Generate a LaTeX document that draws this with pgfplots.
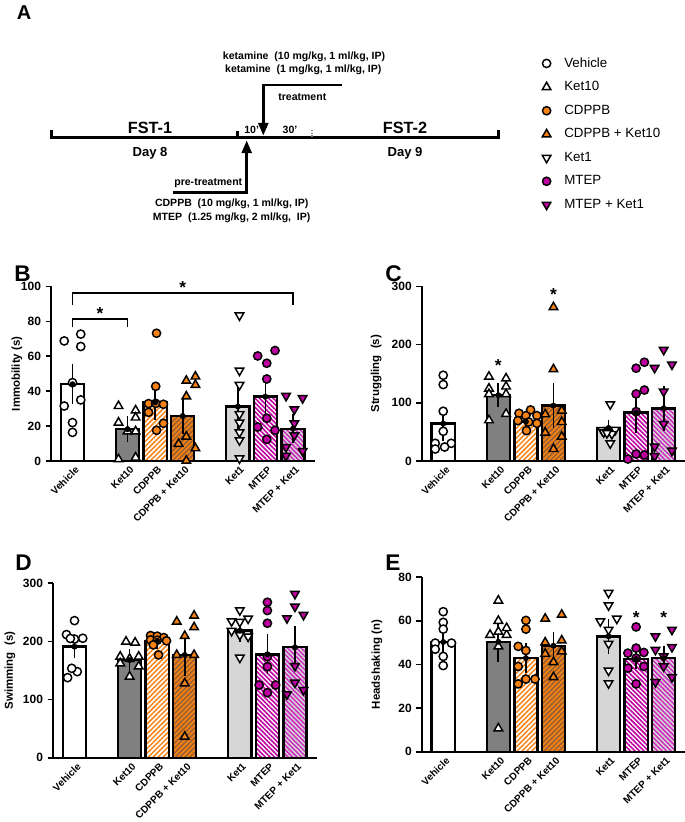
\documentclass[border=0pt]{standalone}
\usepackage{fontspec}
\setmainfont{Liberation Sans}
\usepackage{pgfplots}
\pgfplotsset{compat=1.18}
\usetikzlibrary{patterns.meta,arrows.meta}

\definecolor{myorange}{RGB}{247,130,20}
\definecolor{mymag}{RGB}{190,0,160}
\definecolor{mybrown}{RGB}{150,95,50}
\definecolor{mypink}{RGB}{205,40,190}
\definecolor{kgray}{RGB}{128,128,128}
\definecolor{lgray}{RGB}{214,214,214}

\pgfplotsset{
  panel/.style={
    scale only axis, width=198pt, height=130.9pt,
    xmin=-0.78, xmax=8.8, ymin=0,
    axis lines*=left,
    axis line style={line width=1.3pt},
    xtick={0,2,3,4,6,7,8},
    xticklabels={Vehicle,Ket10,CDPPB,CDPPB + Ket10,Ket1,MTEP,MTEP + Ket1},
    xtick style={draw=none},
    xticklabel style={rotate=45, anchor=north east, inner sep=1pt, font=\bfseries\fontsize{7.5}{9}\selectfont, xshift=2.5pt, yshift=0.5pt},
    ytick style={line width=1.2pt, black},
    tick align=outside,
    major tick length=4pt,
    yticklabel style={font=\bfseries\fontsize{9}{10}\selectfont},
    /pgf/number format/assume math mode=true,
    every axis y label/.style={at={(axis description cs:0,0.5)}, rotate=90, anchor=center, font=\bfseries\fontsize{8.6}{10}\selectfont},
    clip=false,
  },
  bbase/.style={ybar, bar width=0.84, bar shift=0pt, draw=black, line width=1.8pt},
  bVeh/.style={bbase, fill=white},
  bK10/.style={bbase, fill=kgray},
  bCD/.style={bbase, preaction={fill=white}, pattern={Lines[angle=45,distance=2.6pt,line width=1.1pt]}, pattern color=myorange},
  bCDK/.style={bbase, preaction={fill=mybrown}, pattern={Lines[angle=45,distance=2.6pt,line width=1.3pt]}, pattern color=myorange},
  bK1/.style={bbase, fill=lgray},
  bMT/.style={bbase, preaction={fill=white}, pattern={Lines[angle=-45,distance=2.4pt,line width=1.2pt]}, pattern color=mymag},
  bMTK/.style={bbase, preaction={fill=lgray}, pattern={Lines[angle=-45,distance=2.4pt,line width=1.1pt]}, pattern color=mypink},
  pVeh/.style={only marks, mark=*, mark size=3.1pt, mark options={draw=black, fill=white, line width=1.1pt}},
  pCD/.style={only marks, mark=*, mark size=3.1pt, mark options={draw=black, fill=myorange, line width=1.1pt}},
  pMT/.style={only marks, mark=*, mark size=3.1pt, mark options={draw=black, fill=mymag, line width=1.1pt}},
  pK10/.style={only marks, mark=triangle*, mark size=3.7pt, mark options={draw=black, fill=white, line width=1.1pt}},
  pCDK/.style={only marks, mark=triangle*, mark size=3.7pt, mark options={draw=black, fill=myorange, line width=1.1pt}},
  pK1/.style={only marks, mark=triangle*, mark size=3.7pt, mark options={draw=black, fill=white, line width=1.1pt, rotate=180}},
  pMTK/.style={only marks, mark=triangle*, mark size=3.7pt, mark options={draw=black, fill=mymag, line width=1.1pt, rotate=180}},
  ebar/.style={only marks, mark=none, black, error bars/.cd, y dir=both, y explicit,
     error bar style={line width=1.3pt, black}, error mark=-,
     error mark options={line width=1.3pt, black, mark size=4.5pt}},
}
\newcommand{\sigstar}[2]{\node[font=\bfseries\fontsize{13}{13}\selectfont, inner sep=0pt, yshift=-2pt] at (axis cs:#1,#2) {*};}

\begin{document}
\begin{tikzpicture}
\path[use as bounding box] (0,0) rectangle (513.75pt,-616.5pt);

\begin{scope}[x=0.75pt,y=-0.75pt]
  \node[anchor=base west, inner sep=0pt, font=\bfseries\fontsize{15}{15}\selectfont] at (16.5,19.5) {A};
  \node[anchor=base west, inner sep=0pt, font=\bfseries\fontsize{17}{17}\selectfont] at (14,281) {B};
  \node[anchor=base west, inner sep=0pt, font=\bfseries\fontsize{17}{17}\selectfont] at (385,281) {C};
  \node[anchor=base west, inner sep=0pt, font=\bfseries\fontsize{17}{17}\selectfont] at (15,570) {D};
  \node[anchor=base west, inner sep=0pt, font=\bfseries\fontsize{17}{17}\selectfont] at (385,570) {E};
  % timeline
  \draw[line width=1.9pt] (51.7,130) -- (51.7,137.3) -- (498.3,137.3) -- (498.3,130);
  \draw[line width=1.9pt] (237.3,137.3) -- (237.3,130.5);
  \draw[line width=1.6pt, gray, dash pattern=on 1.4pt off 0.8pt] (311.7,137.3) -- (311.7,129.5);
  \draw[line width=1.9pt, -{Triangle[width=7.5pt,length=9.5pt]}] (341.7,85) -- (263.3,85) -- (263.3,135.5);
  \draw[line width=1.9pt, -{Triangle[width=7.5pt,length=9.5pt]}] (173.3,192.7) -- (246.7,192.7) -- (246.7,140.5);
  \begin{scope}[every node/.style={anchor=base, inner sep=0pt, font=\bfseries\fontsize{12.2}{13}\selectfont}]
    \node at (150,133.3) {FST-1};
    \node at (405,133.3) {FST-2};
  \end{scope}
  \begin{scope}[every node/.style={anchor=base, inner sep=0pt, font=\bfseries\fontsize{9.8}{11}\selectfont}]
    \node at (150,156.7) {Day 8};
    \node at (405,156.7) {Day 9};
  \end{scope}
  \begin{scope}[every node/.style={anchor=base, inner sep=0pt, font=\bfseries\fontsize{7.9}{9}\selectfont}]
    \node at (304,59.3) {ketamine\ \ (10 mg/kg, 1 ml/kg, IP)};
    \node at (303.3,72.3) {ketamine\ \ (1 mg/kg, 1 ml/kg, IP)};
    \node at (302.3,100.7) {treatment};
    \node at (251.7,133.3) {10'};
    \node at (290,133.3) {30'};
    \node at (208.3,185.7) {pre-treatment};
    \node at (231.7,206) {CDPPB\ \ (10 mg/kg, 1 ml/kg, IP)};
    \node at (231.7,220) {MTEP\ \ (1.25 mg/kg, 2 ml/kg,\ \ IP)};
  \end{scope}
\end{scope}

% legend
\begin{axis}[hide axis, scale only axis, width=20pt, height=20pt, xmin=0, xmax=1, ymin=0, ymax=1,
  at={(405.75pt,-42pt)}, anchor=north west,
  legend style={draw=none, fill=none, at={(0,1)}, anchor=north west, font=\fontsize{10}{11}\selectfont,
     row sep=7.2pt, inner sep=0pt, nodes={inner sep=1pt}},
  legend cell align=left,
  legend image code/.code={\path[draw=none] (-4pt,0pt) -- (12.3pt,0pt); \draw[#1] plot coordinates {(0pt,0pt)};}]
\addlegendimage{pVeh}\addlegendentry{Vehicle}
\addlegendimage{pK10}\addlegendentry{Ket10}
\addlegendimage{pCD}\addlegendentry{CDPPB}
\addlegendimage{pCDK}\addlegendentry{CDPPB + Ket10}
\addlegendimage{pK1}\addlegendentry{Ket1}
\addlegendimage{pMT}\addlegendentry{MTEP}
\addlegendimage{pMTK}\addlegendentry{MTEP + Ket1}
\end{axis}

% ---------------- B ----------------
\begin{axis}[panel, at={(38.25pt,-345.75pt)}, anchor=south west, ymax=100, ytick={0,20,40,60,80,100},
  ylabel={Immobility (s)}, ylabel style={at={(axis description cs:-0.129,0.5)}}]
\addplot[bVeh] coordinates {(0,44)};
\addplot[bK10] coordinates {(2,18.2)};
\addplot[bCD] coordinates {(3,33.5)};
\addplot[bCDK] coordinates {(4,25.8)};
\addplot[bK1] coordinates {(6,31.2)};
\addplot[bMT] coordinates {(7,36.9)};
\addplot[bMTK] coordinates {(8,18.5)};
\addplot[pVeh] coordinates {(-0.3,68.8) (0.3,72.7) (0.3,65.6) (0,44.9) (-0.3,31.5) (0.3,35) (0,22) (0,16.4)};
\addplot[pK10] coordinates {(1.67,31.5) (2.29,29) (1.67,22) (2.29,24.9) (2,17) (2.29,17) (1.67,1) (2.29,2)};
\addplot[pCD] coordinates {(3.05,73.2) (3.02,42.8) (2.76,32.9) (3.02,33) (3.3,32.5) (2.76,27.9) (3.3,21.6) (3.05,17.6)};
\addplot[pCDK] coordinates {(4.13,46) (4.46,48.4) (4.46,43.6) (4.13,37) (4.13,14) (3.85,9.8) (4.46,7.3) (4.13,0.2)};
\addplot[pK1] coordinates {(6.06,83.4) (6.06,51.8) (6.06,43.6) (6.06,26.8) (6.06,22) (6.06,16.4) (6.06,11.9) (6.06,1.5)};
\addplot[pMT] coordinates {(6.72,60.2) (7.05,56) (7.35,63.3) (7.05,47) (7.05,24.5) (6.72,19.5) (7.35,17.6) (7.05,12.4)};
\addplot[pMTK] coordinates {(7.75,37.3) (8.35,36) (8.05,29.6) (8.05,21.6) (8.05,14.7) (7.75,8) (8.35,5.7) (7.75,3)};
\addplot[ebar] coordinates {(0,44) +- (0,8) (2,18.2) +- (0,4) (3,33.5) +- (0,6.5) (4,25.8) +- (0,7) (6,31.2) +- (0,10) (7,36.9) +- (0,7.5) (8,18.5) +- (0,5)};
\draw[line width=1.2pt] (axis cs:0,76.5) |- (axis cs:2,81.5) -- (axis cs:2,76.5);
\draw[line width=1.2pt] (axis cs:0,89.5) |- (axis cs:8,96.2) -- (axis cs:8,89.5);
\sigstar{1}{86}
\sigstar{4}{101}
\end{axis}

% ---------------- C ----------------
\begin{axis}[panel, at={(316.3pt,-345.75pt)}, anchor=south west, ymax=300, ytick={0,100,200,300},
  ylabel={Struggling\ \ (s)}, ylabel style={at={(axis description cs:-0.173,0.5)}}]
\addplot[bVeh] coordinates {(0,64.2)};
\addplot[bK10] coordinates {(2,113)};
\addplot[bCD] coordinates {(3,67.7)};
\addplot[bCDK] coordinates {(4,95.2)};
\addplot[bK1] coordinates {(6,56.8)};
\addplot[bMT] coordinates {(7,83.2)};
\addplot[bMTK] coordinates {(8,90.6)};
\addplot[pVeh] coordinates {(0,147.4) (0,131.4) (0,85.5) (0,51) (-0.29,30.4) (0.29,30.4) (-0.29,20.6) (0.05,24)};
\addplot[pK10] coordinates {(1.66,145) (2.28,142) (1.66,124.5) (2.28,128) (1.66,115) (2.28,115) (1.66,70) (2.28,81)};
\addplot[pCD] coordinates {(3.17,87.8) (2.75,82) (3.4,78) (3,78) (2.71,69.4) (3.4,64.8) (3.02,52.2) (3.1,67)};
\addplot[pCDK] coordinates {(4,264.4) (4,157.7) (3.7,80.3) (4.3,86.6) (4.3,67) (3.7,48.8) (4.3,41.9) (4,20.6)};
\addplot[pK1] coordinates {(6.06,97.5) (5.76,53.3) (6,53) (6.24,53.5) (5.82,49.3) (6.12,46.5) (6.06,30.4) (5.94,48)};
\addplot[pMT] coordinates {(7.3,169.8) (7,159.5) (7.3,122) (7,115.3) (7,84.9) (6.7,3.4) (7,12) (7.3,10.3)};
\addplot[pMTK] coordinates {(8,191) (7.67,160) (8.3,165.8) (8,119.3) (8,63.7) (7.67,24.7) (7.67,8.6) (8.3,17.8)};
\addplot[ebar] coordinates {(0,64.2) +- (0,19) (2,113) +- (0,10) (3,67.7) +- (0,5) (4,95.2) +- (0,28.5) (6,56.8) +- (0,3) (7,83.2) +- (0,25) (8,90.6) +- (0,28)};
\sigstar{2}{168}
\sigstar{4}{290.8}
\end{axis}

% ---------------- D ----------------
\begin{axis}[panel, at={(39.75pt,-568.3pt)}, anchor=south west, ymax=300, ytick={0,100,200,300},
  ylabel={Swimming\ \ (s)}, ylabel style={at={(axis description cs:-0.163,0.5)}}]
\addplot[bVeh] coordinates {(0,191)};
\addplot[bK10] coordinates {(2,168)};
\addplot[bCD] coordinates {(3,201)};
\addplot[bCDK] coordinates {(4,176.7)};
\addplot[bK1] coordinates {(6,218.5)};
\addplot[bMT] coordinates {(7,177.8)};
\addplot[bMTK] coordinates {(8,189.9)};
\addplot[pVeh] coordinates {(0,235.7) (-0.29,211.7) (0,204) (0.3,205.4) (-0.15,205) (0.1,148) (-0.1,153.7) (-0.25,137.7)};
\addplot[pK10] coordinates {(1.87,199.6) (2.2,197.9) (1.66,173.8) (2.33,173.8) (2,170) (1.66,162.3) (2.33,157) (2,139.4)};
\addplot[pCD] coordinates {(2.76,210) (3,209) (3.24,206.5) (2.76,202.5) (3,202) (3.34,201) (2.86,194) (3.05,176.7)};
\addplot[pCDK] coordinates {(4.34,244.3) (3.71,234) (4.34,224.3) (4,209.4) (3.71,176.7) (4.34,176.7) (4,127.9) (4,36.1)};
\addplot[pK1] coordinates {(6,253.5) (5.7,234.6) (6,233.5) (6.3,239.2) (5.7,218) (6,211) (6.3,208.2) (6,172)};
\addplot[pMT] coordinates {(7,267.3) (7,253) (7,231.2) (7,173.8) (7,156.6) (6.7,125) (7.3,125) (7,111.9)};
\addplot[pMTK] coordinates {(8,281.6) (8,259.8) (7.71,239.8) (8.31,245.5) (8,157.7) (8,129) (7.71,109) (8.31,116.4)};
\addplot[ebar] coordinates {(0,191) +- (0,10) (2,168) +- (0,8.5) (3,201) +- (0,4.5) (4,176.7) +- (0,26) (6,218.5) +- (0,8.5) (7,177.8) +- (0,24) (8,189.9) +- (0,26)};
\end{axis}

% ---------------- E ----------------
\begin{axis}[panel, at={(316.3pt,-563.8pt)}, anchor=south west, ymax=80, ytick={0,20,40,60,80},
  ylabel={Headshaking (n)}, ylabel style={at={(axis description cs:-0.17,0.5)}}]
\addplot[bVeh] coordinates {(0,50.3)};
\addplot[bK10] coordinates {(2,50.4)};
\addplot[bCD] coordinates {(3,42.9)};
\addplot[bCDK] coordinates {(4,48.6)};
\addplot[bK1] coordinates {(6,52.9)};
\addplot[bMT] coordinates {(7,42.5)};
\addplot[bMTK] coordinates {(8,42.9)};
\addplot[pVeh] coordinates {(0,64.2) (0,59.3) (0,56.2) (-0.29,49.8) (0.3,49.8) (-0.29,47) (0,43.7) (0,39.5)};
\addplot[pK10] coordinates {(2,69.3) (2,60) (1.7,53.6) (2.3,53.6) (2.3,56.7) (2,55) (2,48.3) (2,10.7)};
\addplot[pCD] coordinates {(3,60.2) (3,56.2) (2.72,48.3) (3,46.4) (2.72,39.1) (2.72,31.1) (3,33.3) (3.33,33.3)};
\addplot[pCDK] coordinates {(3.7,61) (4.3,62.8) (3.7,50.1) (4.3,51) (3.7,44.9) (4.3,46) (4,41.1) (4,34.2)};
\addplot[pK1] coordinates {(6,72.8) (6,67.1) (5.7,59.8) (6.3,61) (6,55.9) (6,49.5) (6,37.2) (6,31.4)};
\addplot[pMT] coordinates {(7,57.2) (7,47.5) (7.28,45.5) (6.7,45.2) (7,42.9) (7.28,39.1) (6.7,38.3) (7,31.1)};
\addplot[pMTK] coordinates {(7.7,52.9) (8.3,55.9) (7.7,46.7) (8.3,48) (8,43.7) (8,39.1) (8.3,34.2) (7.7,31.9)};
\addplot[ebar] coordinates {(0,50.3) +- (0,3) (2,50.4) +- (0,6.3) (3,42.9) +- (0,4) (4,48.6) +- (0,3.6) (6,52.9) +- (0,5.2) (7,42.5) +- (0,2) (8,42.9) +- (0,3)};
\sigstar{7}{62.8}
\sigstar{8}{62.8}
\end{axis}
\end{tikzpicture}
\end{document}
